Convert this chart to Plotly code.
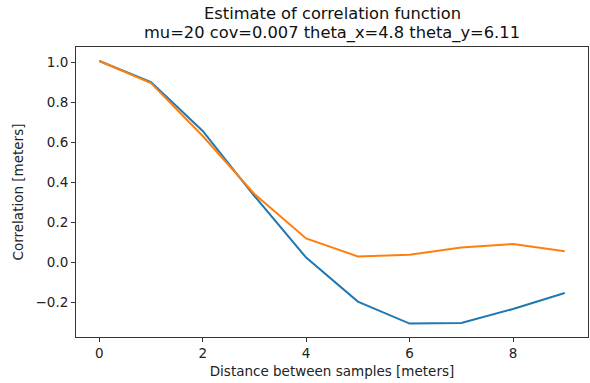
import plotly.graph_objects as go

lags = [0, 1, 2, 3, 4, 5, 6, 7, 8, 9]
corr_blue = [1.005, 0.900, 0.655, 0.330, 0.022, -0.198, -0.308, -0.305, -0.235, -0.155]
corr_orange = [1.005, 0.895, 0.630, 0.340, 0.118, 0.028, 0.036, 0.073, 0.090, 0.054]

x_ticks = [0, 2, 4, 6, 8]
y_ticks = [-0.2, 0.0, 0.2, 0.4, 0.6, 0.8, 1.0]
title_lines = ["Estimate of correlation function",
               "mu=20 cov=0.007 theta_x=4.8 theta_y=6.11"]

font = "DejaVu Sans"
fig = go.Figure()
fig.add_trace(go.Scatter(x=lags, y=corr_blue, mode="lines",
                         line=dict(color="#1f77b4", width=2), showlegend=False))
fig.add_trace(go.Scatter(x=lags, y=corr_orange, mode="lines",
                         line=dict(color="#ff7f0e", width=2), showlegend=False))

axis_common = dict(showgrid=False, zeroline=False, showline=True, mirror=True,
                   linecolor="#333333", linewidth=1, ticks="outside", ticklen=4,
                   tickcolor="#333333", tickfont=dict(family=font, size=13.5, color="#222"))
fig.update_xaxes(range=[-0.45, 9.45], tickvals=x_ticks, ticktext=[str(v) for v in x_ticks],
                 title=dict(text="Distance between samples [meters]",
                            font=dict(family=font, size=13.5, color="#222"), standoff=6),
                 **axis_common)
fig.update_yaxes(range=[-0.375, 1.075], tickvals=y_ticks,
                 ticktext=["\u22120.2", "0.0", "0.2", "0.4", "0.6", "0.8", "1.0"],
                 title=dict(text="Correlation [meters]",
                            font=dict(family=font, size=13.5, color="#222"), standoff=8),
                 **axis_common)
for line, shift in zip(title_lines, [34, 14]):
    fig.add_annotation(text=line, xref="paper", yref="paper", x=0.5, y=1,
                       xanchor="center", yanchor="middle", yshift=shift, showarrow=False,
                       font=dict(family=font, size=16.3, color="#111"))
fig.update_layout(
    width=590, height=383,
    margin=dict(l=76, r=2, t=47, b=46),
    paper_bgcolor="white", plot_bgcolor="white",
    font=dict(family=font),
)
fig.write_html("out.html")
